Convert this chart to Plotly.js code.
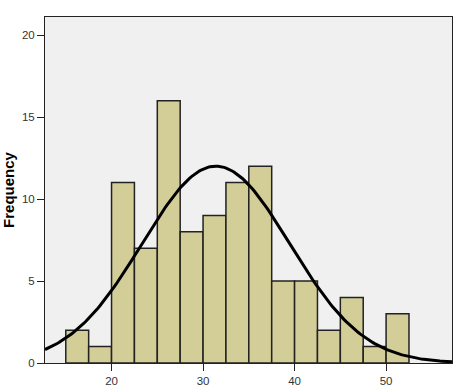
<!DOCTYPE html>
<html>
<head>
<meta charset="utf-8">
<script src="https://cdn.plot.ly/plotly-3.0.1.min.js"></script>
<style>html,body{margin:0;padding:0;background:#fff;}#chart{width:457px;height:392px;}</style>
</head>
<body>
<div id="chart"></div>
<script>
// Histogram bins (left edges) and counts
var binStarts = [15, 17.5, 20, 22.5, 25, 27.5, 30, 32.5, 35, 37.5, 40, 42.5, 45, 47.5, 50];
var counts    = [2, 1, 11, 7, 16, 8, 9, 11, 12, 5, 5, 2, 4, 1, 3];
var binWidth = 2.5;
// Fitted normal curve parameters (estimated from the drawn curve)
var fitMean = 31.4;
var fitSD = 8.06;
var xTicks = [20, 30, 40, 50];
var yTicks = [0, 5, 10, 15, 20];

var mids = binStarts.map(function(s){ return s + binWidth/2; });
var total = counts.reduce(function(a,b){return a+b;}, 0);

var xMin = 12.73, xMax = 57.2;
var cx = [], cy = [];
for (var i = 0; i <= 200; i++) {
  var x = xMin + (xMax - xMin) * i / 200;
  var z = (x - fitMean) / fitSD;
  cx.push(x);
  cy.push(total * binWidth / (fitSD * Math.sqrt(2*Math.PI)) * Math.exp(-z*z/2));
}

var traces = [
  {type:'bar', x: mids, y: counts, width: binWidth,
   marker:{color:'#d3ce97', line:{color:'#222222', width:1.5}},
   hoverinfo:'none'},
  {type:'scatter', mode:'lines', x: cx, y: cy,
   line:{color:'#000000', width:3}, hoverinfo:'none'}
];

var font = {family:'Arial, Liberation Sans, sans-serif', size:11.5, color:'#333333'};
var layout = {
  width:457, height:392,
  margin:{l:45, r:5, t:17, b:29, pad:0},
  paper_bgcolor:'#ffffff', plot_bgcolor:'#f0f0f0',
  showlegend:false, bargap:0,
  font: font,
  xaxis:{range:[xMin, xMax], tickvals:xTicks, ticktext:xTicks.map(String),
         ticks:'outside', ticklen:7, tickcolor:'#222', tickwidth:1,
         showline:true, linecolor:'#222', linewidth:1, mirror:true,
         showgrid:false, zeroline:false, tickfont:font},
  yaxis:{range:[0, 21.1], tickvals:yTicks, ticktext:yTicks.map(String),
         ticks:'outside', ticklen:7, tickcolor:'#222', tickwidth:1,
         showline:true, linecolor:'#222', linewidth:1, mirror:true,
         showgrid:false, zeroline:false, tickfont:font,
         title:{text:'Frequency', standoff:9,
                font:{family:'Arial, Liberation Sans, sans-serif', size:15, color:'#000', weight:'bold'}}}
};
Plotly.newPlot('chart', traces, layout, {displayModeBar:false, staticPlot:true});
</script>
</body>
</html>
